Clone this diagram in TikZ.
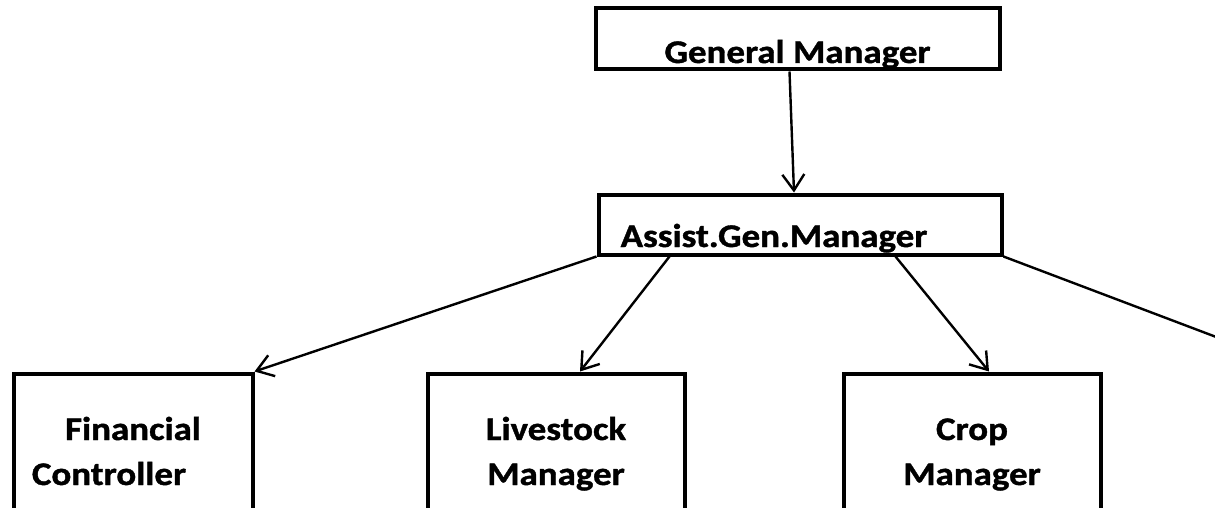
\documentclass[tikz,border=0pt]{standalone}
\usepackage{fontspec}
\setmainfont{Carlito}[FakeStretch=1.12, FakeBold=1.2]
\usetikzlibrary{arrows.meta}
\tikzset{
  post/.style={draw, line width=4pt, inner sep=0pt, align=center},
  lower/.style={post, minimum width=257pt, minimum height=167pt, text height=56pt, text depth=0pt},
  link/.style={line width=2.4pt, -{Straight Barb[length=16pt, width=22pt]}}
}
\begin{document}
\begin{tikzpicture}[x=1pt, y=-1pt, font=\fontsize{33}{45}\selectfont\bfseries]
\useasboundingbox (0,0) rectangle (1215,508);
\clip (0,0) rectangle (1215,508);
% top two levels
\node[post, minimum width=404pt, minimum height=61pt, text height=48pt, text depth=0pt] (gm) at (797.5,39) {General Manager};
\node[post, minimum width=403pt, minimum height=60pt, text height=45pt, text depth=0pt] (agm) at (800,224.5) {Assist.Gen.Manager\hspace*{52pt}};
% managers
\node[lower, minimum width=239pt] (fc) at (133,457) {Financial\\Controller\hspace*{48pt}};
\node[lower] (lm) at (556,457) {Livestock\\Manager};
\node[lower] (cm) at (972,457) {Crop\\Manager};
\coordinate (off) at (1240,346);
% links
\draw[link] ([xshift=-8pt]gm.south) -- ([xshift=-6pt]agm.north);
\draw[link] (agm.south west) -- (fc.north east);
\draw[link] ([xshift=73pt]agm.south west) -- ([xshift=24pt]lm.north);
\draw[link] ([xshift=-108pt]agm.south east) -- ([xshift=17pt]cm.north);
\draw[line width=2.4pt] (agm.south east) -- (off);
\end{tikzpicture}
\end{document}
